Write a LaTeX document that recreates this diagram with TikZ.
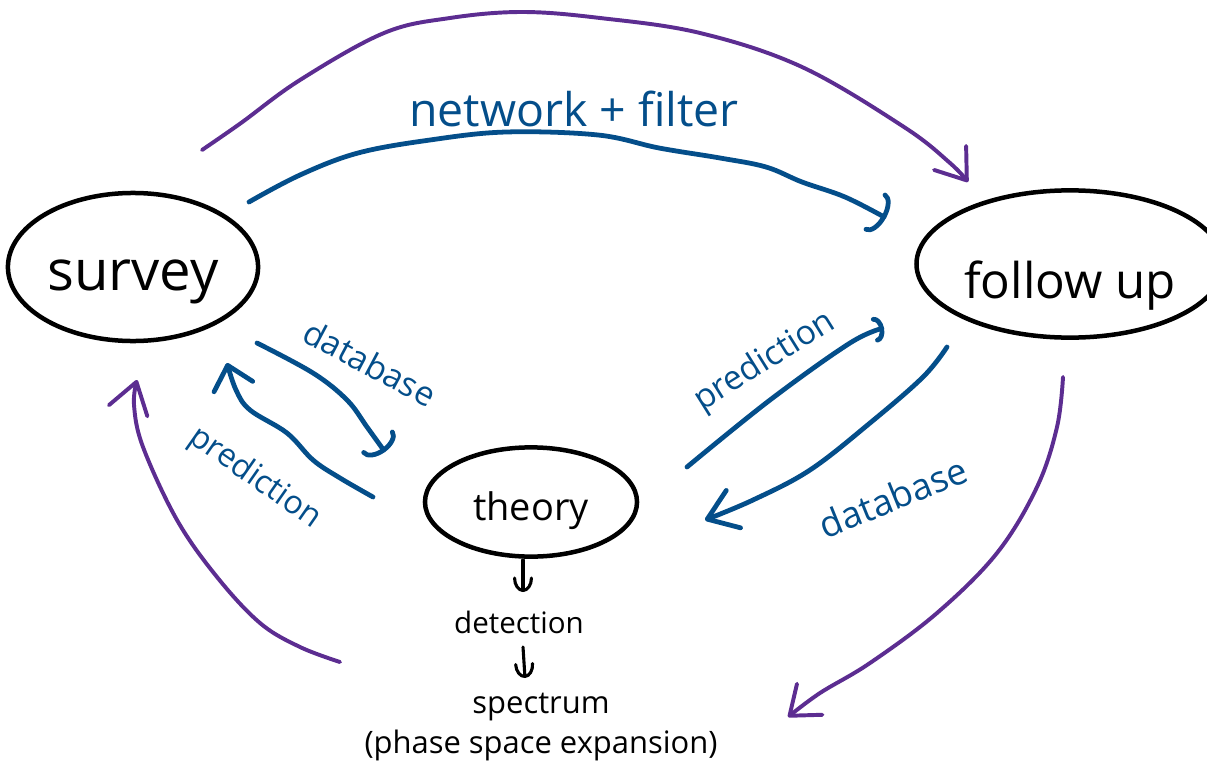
\documentclass[tikz,border=0pt]{standalone}
\usepackage{fontspec}
\setmainfont{Open Sans}
\usetikzlibrary{arrows.meta,shapes.geometric}
\definecolor{inkblue}{RGB}{4,78,138}
\definecolor{inkpurple}{RGB}{92,45,145}
\begin{document}
\begin{tikzpicture}[
  x=0.025cm, y=-0.025cm,
  blob/.style={ellipse, draw=black, line width=3.2pt, text=black, inner sep=2pt},
  note/.style={text=inkblue, inner sep=1pt},
  plain/.style={text=black, inner sep=1pt},
  blueline/.style={draw=inkblue, line width=3.4pt, line cap=round, line join=round},
  purpleline/.style={draw=inkpurple, line width=2.8pt, line cap=round, line join=round},
  hooktip/.style 2 args={-{Arc Barb[length=#1, width=#2, round]}},
  vtip/.style 2 args={-{Straight Barb[length=#1, width=#2, round]}},
]
\useasboundingbox (0,0) rectangle (1207,768);

% the three stations
\node[blob, minimum width=5.83cm, minimum height=3.7cm, text height=1.15cm, text depth=0pt,
      font=\fontsize{40}{48}\selectfont] (survey) at (133,267) {survey};
\node[blob, minimum width=6.7cm, minimum height=3.68cm, text height=1.7cm, text depth=0pt,
      font=\fontsize{35}{42}\selectfont] (follow) at (1070,264) {follow up};
\node[blob, minimum width=5.3cm, minimum height=2.73cm, text height=0.9cm, text depth=0pt,
      font=\fontsize{27}{32}\selectfont] (theory) at (531,502) {theory};

% chain below theory
\node[plain, anchor=base, font=\fontsize{21}{25}\selectfont] (detection) at (519,633) {detection};
\node[plain, anchor=base, font=\fontsize{22}{26}\selectfont] (spectrum) at (541,713) {spectrum};
\node[plain, anchor=base, font=\fontsize{22}{26}\selectfont] (phase) at (541,753) {(phase space expansion)};

% labels on the blue connectors
\node[note, anchor=base, font=\fontsize{33}{38}\selectfont] (netlabel) at (574,127) {network + filter};
\node[note, rotate=-28, font=\fontsize{24}{28}\selectfont] (dbleft) at (370,363) {database};
\node[note, rotate=-35, font=\fontsize{23}{28}\selectfont] (predleft) at (255,478) {prediction};
\node[note, rotate=32, font=\fontsize{24}{28}\selectfont] (predright) at (765,362) {prediction};
\node[note, rotate=22, font=\fontsize{26}{30}\selectfont] (dbright) at (893,497) {database};

% outer purple cycle
\draw[purpleline, vtip={0.7cm}{1.0cm}] plot[smooth, tension=0.6] coordinates {
  ([shift={(69,-117)}]survey.center) (241,123) (300,80) (384,33) (450,18) (522,12)
  (600,18) (700,33) (802,67) (904,127) (950,163) ([shift={(-102,-82)}]follow.center)};
\draw[purpleline, vtip={0.65cm}{1.0cm}] plot[smooth, tension=0.6] coordinates {
  ([shift={(-7,113)}]follow.center) (1057,427) (1037,487) (997,553) (937,613)
  (870,663) (820,693) ([shift={(247,-36)}]phase.base)};
\draw[purpleline, vtip={0.75cm}{1.0cm}] plot[smooth, tension=0.6] coordinates {
  ([shift={(-201,-51)}]spectrum.base) (300,647) (260,623) (217,577) (177,520)
  (143,447) (134,405) ([shift={(4,113)}]survey.center)};

% blue exchanges
\draw[blueline, hooktip={0.3cm}{1.1cm}] plot[smooth, tension=0.6] coordinates {
  ([shift={(116,-65)}]survey.center) (300,175) (358,153) (430,140) (506,132)
  (598,135) (659,148) (720,158) (766,167) (802,182) (845,197) ([shift={(-184,-46)}]follow.center)};
\draw[blueline, hooktip={0.3cm}{1.0cm}] plot[smooth, tension=0.6] coordinates {
  ([shift={(124,76)}]survey.center) (313,373) (347,400) (367,427) ([shift={(-146,-50)}]theory.center)};
\draw[blueline, vtip={0.55cm}{1.0cm}] plot[smooth, tension=0.6] coordinates {
  ([shift={(-158,-5)}]theory.center) (340,478) (313,460) (287,433) (250,410) (236,390)
  ([shift={(94,96)}]survey.center)};
\draw[blueline, hooktip={0.22cm}{0.65cm}] plot[smooth, tension=0.6] coordinates {
  ([shift={(156,-35)}]theory.center) (770,400) (850,343) ([shift={(-186,64)}]follow.center)};
\draw[blueline, vtip={0.7cm}{1.0cm}] plot[smooth, tension=0.6] coordinates {
  ([shift={(-123,83)}]follow.center) (923,377) (870,423) (810,470) (753,500)
  ([shift={(174,18)}]theory.center)};

% small black arrows down the chain
\draw[draw=black, line width=2.2pt, line cap=round, hooktip={0.35cm}{0.5cm}]
  ([shift={(-8,58)}]theory.center) -- ([shift={(4,-41)}]detection.base);
\draw[draw=black, line width=2.2pt, line cap=round, hooktip={0.35cm}{0.5cm}]
  ([shift={(4,14)}]detection.base) -- ([shift={(-16,-35)}]spectrum.base);
\end{tikzpicture}
\end{document}
